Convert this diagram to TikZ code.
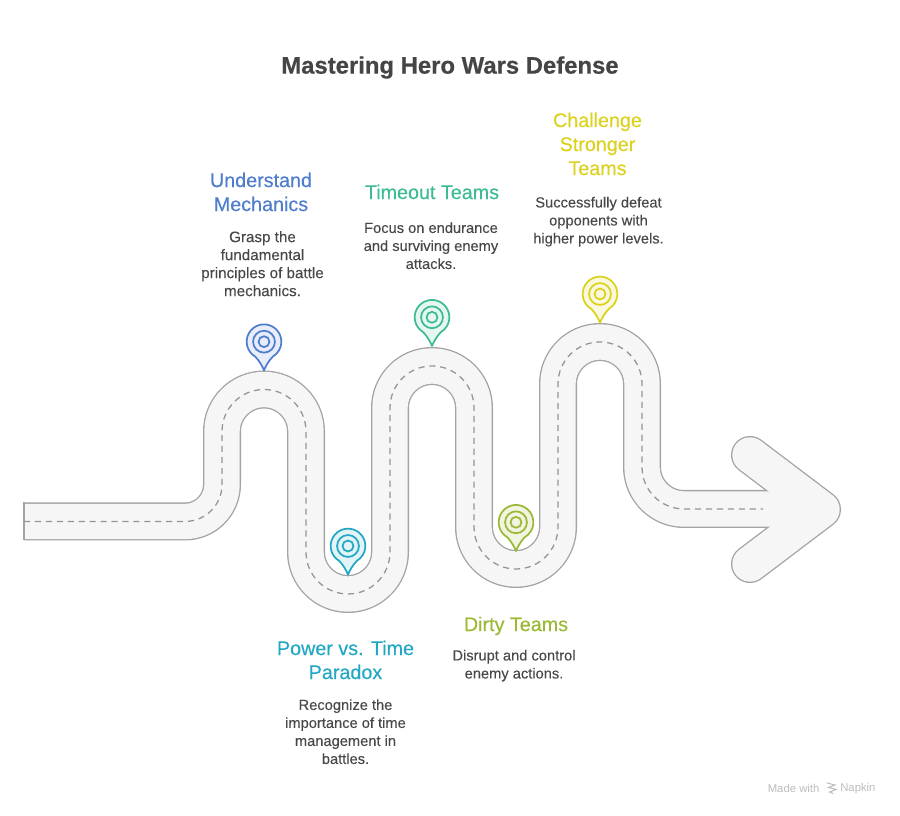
\documentclass[tikz,border=0pt]{standalone}
\usepackage{fontspec}
\setmainfont{Liberation Sans}
\newfontfamily\headfont[FakeBold=0.25]{Liberation Sans}
\newfontfamily\bodyfont[FakeBold=0.08]{Liberation Sans}
\newfontfamily\titlefont[FakeBold=0.5]{Liberation Sans Bold}
\definecolor{roadedge}{HTML}{A4A4A4}
\definecolor{roadfill}{HTML}{F6F6F6}
\definecolor{dashgray}{HTML}{959595}
\definecolor{inkdark}{HTML}{454545}
\definecolor{inkbody}{HTML}{484848}
\definecolor{cblue}{HTML}{4F7DCE}
\definecolor{ccyan}{HTML}{22A8C4}
\definecolor{cgreen}{HTML}{3DBB94}
\definecolor{colive}{HTML}{9AB935}
\definecolor{cyellow}{HTML}{DCD21E}
\definecolor{wm}{HTML}{BDBDBD}
\newcommand{\RoadCurve}{(24,294.5) -- (185,294.5)
  arc[start angle=-90,end angle=0,radius=27.75pt] -- (222,384.5)
  arc[start angle=180,end angle=0,radius=31.5pt] -- (306,264)
  arc[start angle=180,end angle=360,radius=31.5pt] -- (390,408)
  arc[start angle=180,end angle=0,radius=31.5pt] -- (474,289)
  arc[start angle=180,end angle=360,radius=31.5pt] -- (558,432)
  arc[start angle=180,end angle=0,radius=31.5pt] -- (642,349)
  arc[start angle=180,end angle=270,radius=31.5pt]}
\newcommand{\RoadHead}{(750,361) -- (822,306.5) -- (750,252)}
\newcommand{\MapPin}[5]{% name, x, y, colour, tint
  \begin{scope}[shift={(#2,#3)}]
    \coordinate (#1) at (0,0);
    \path[draw=#4,fill=#5,line width=1.3pt,line join=round]
      (0,-28.7) .. controls (-1.5,-25) and (-4,-20) .. (-8.65,-15)
      arc[start angle=240,end angle=-60,radius=13pt]
      .. controls (4,-20) and (1.5,-25) .. (0,-28.7) -- cycle;
    \draw[#4,line width=1.3pt] (0,0) circle[radius=8.2pt];
    \draw[#4,line width=1.3pt,fill=#5] (0,0) circle[radius=4.1pt];
  \end{scope}}
\tikzset{
  headtext/.style={align=center,inner sep=0pt,font=\headfont\fontsize{14.8}{18}\selectfont},
  bodytext/.style={align=center,inner sep=0pt,text=inkbody,font=\bodyfont\fontsize{11}{13.5}\selectfont},
  titletext/.style={inner sep=0pt,text=inkdark,font=\titlefont\fontsize{17.9}{22}\selectfont},
  wmtext/.style={inner sep=0pt,text=wm,font=\fontsize{8.5}{10}\selectfont}
}
\begin{document}
\begin{tikzpicture}[x=0.75pt,y=0.75pt]
\useasboundingbox[fill=white] (0,0) rectangle (900,816);
% road: outline layer, then surface, then centre line
\draw[roadedge,line width=28.5pt,line cap=butt,line join=round] \RoadCurve -- (800,307);
\draw[roadedge,line width=28.5pt,line cap=round,line join=round] \RoadHead;
\draw[roadfill,line width=26.5pt,line cap=butt,line join=round] \RoadCurve -- (800,307);
\draw[roadfill,line width=26.5pt,line cap=round,line join=round] \RoadHead;
\draw[roadedge,line width=1.4pt,line cap=butt] (24,275.5) -- (24,313.5);
\draw[dashgray,line width=0.95pt,dash pattern=on 4.6pt off 3.6pt] \RoadCurve -- (763,307);
% pins
\MapPin{pinA}{264}{474.3}{cblue}{cblue!13}
\MapPin{pinB}{348}{270}{ccyan}{ccyan!13}
\MapPin{pinC}{432}{498.7}{cgreen}{cgreen!13}
\MapPin{pinD}{516}{293.7}{colive}{colive!15}
\MapPin{pinE}{600}{522}{cyellow}{cyellow!15}
% text
\node[titletext] (title) at (450,748.5) {Mastering Hero Wars Defense};
\node[headtext,text=cblue] (headA) at (261,624) {Understand\\Mechanics};
\node[bodytext,font=\bodyfont\fontsize{11.4}{13.5}\selectfont] (bodyA) at (262.5,552.3) {Grasp the\\fundamental\\principles of battle\\mechanics.};
\node[headtext,text=cgreen] (headC) at (432,624) {Timeout Teams};
\node[bodytext] (bodyC) at (431,570.3) {Focus on endurance\\and surviving enemy\\attacks.};
\node[headtext,text=cyellow] (headE) at (597.5,672) {Challenge\\Stronger\\Teams};
\node[bodytext] (bodyE) at (598.5,594.3) {Successfully defeat\\opponents with\\higher power levels.};
\node[headtext,text=ccyan] (headB) at (345.5,156) {Power vs. Time\\Paradox};
\node[bodytext] (bodyB) at (345.5,84.3) {Recognize the\\importance of time\\management in\\battles.};
\node[headtext,text=colive] (headD) at (516,190) {Dirty Teams};
\node[bodytext] (bodyD) at (514,150.3) {Disrupt and control\\enemy actions.};
\node[wmtext,anchor=west] (wmA) at (767.5,27.5) {Made with};
\node[wmtext,anchor=west] (wmB) at (840,27.5) {Napkin};
\draw[wm,line width=0.8pt,line cap=round] (827,33) -- (835,31) -- (828.5,28.5) -- (836,26.5) -- (829.5,24) -- (833,22.5);
\end{tikzpicture}
\end{document}
